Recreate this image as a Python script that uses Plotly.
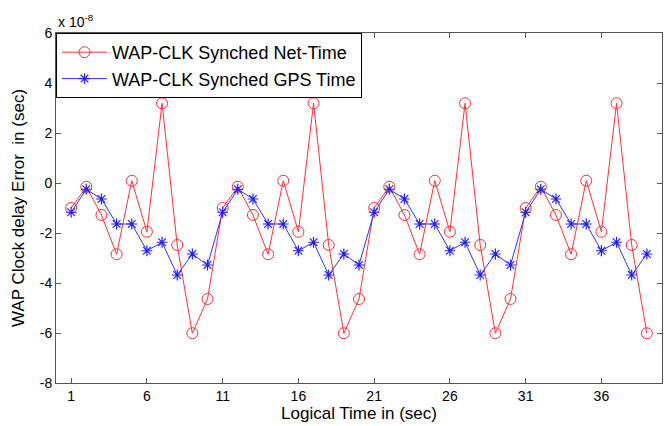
import plotly.graph_objects as go

x_time = list(range(1, 40))
net_time = [-1.0, -0.15, -1.28, -2.85, 0.09, -1.95, 3.19, -2.48, -6.01, -4.64,
            -1.0, -0.15, -1.28, -2.85, 0.09, -1.95, 3.19, -2.48, -6.01, -4.64,
            -1.0, -0.15, -1.28, -2.85, 0.09, -1.95, 3.19, -2.48, -6.01, -4.64,
            -1.0, -0.15, -1.28, -2.85, 0.09, -1.95, 3.19, -2.48, -6.01]
gps_time = [-1.17, -0.25, -0.64, -1.64, -1.64, -2.71, -2.37, -3.68, -2.84, -3.28,
            -1.17, -0.25, -0.64, -1.64, -1.64, -2.71, -2.37, -3.68, -2.84, -3.28,
            -1.17, -0.25, -0.64, -1.64, -1.64, -2.71, -2.37, -3.68, -2.84, -3.28,
            -1.17, -0.25, -0.64, -1.64, -1.64, -2.71, -2.37, -3.68, -2.84]
x_ticks = [1, 6, 11, 16, 21, 26, 31, 36]
y_ticks = [-8, -6, -4, -2, 0, 2, 4, 6]

FONT = "Arial, Liberation Sans, sans-serif"

fig = go.Figure()
fig.add_trace(go.Scatter(
    x=x_time, y=net_time, mode="lines+markers",
    name="WAP-CLK Synched Net-Time",
    line=dict(color="#ff3030", width=1),
    marker=dict(symbol="circle-open", size=11, color="#ff3030", line=dict(width=1)),
))
fig.add_trace(go.Scatter(
    x=x_time, y=gps_time, mode="lines+markers",
    name="WAP-CLK Synched GPS Time",
    line=dict(color="#3030ff", width=1),
    marker=dict(symbol="asterisk-open", size=9, color="#2020ff", line=dict(width=1.2)),
))

axis_common = dict(
    showgrid=False, zeroline=False, showline=True, linecolor="#555555", linewidth=1,
    mirror="ticks", ticks="inside", ticklen=5, tickcolor="#555555", automargin=False,
    tickfont=dict(family=FONT, size=14, color="black"),
)
fig.update_xaxes(range=[0, 40], tickvals=x_ticks, ticktext=[str(v) for v in x_ticks],
                 title=dict(text="Logical Time in (sec)", standoff=2,
                            font=dict(family=FONT, size=17, color="black")),
                 **axis_common)
fig.update_yaxes(range=[-8, 6], tickvals=y_ticks, ticktext=[str(v) for v in y_ticks],
                 title=dict(text="WAP Clock delay Error  in (sec)", standoff=10,
                            font=dict(family=FONT, size=17, color="black")),
                 **axis_common)

fig.add_annotation(x=0, y=1, xref="paper", yref="paper", xanchor="left", yanchor="bottom",
                   showarrow=False, yshift=1,
                   text="x 10<sup>-8</sup>",
                   font=dict(family=FONT, size=14, color="black"))

fig.update_layout(
    width=664, height=426,
    margin=dict(l=56, r=2, t=33, b=43, autoexpand=False),
    paper_bgcolor="white", plot_bgcolor="white",
    legend=dict(x=0, y=1, xanchor="left", yanchor="top",
                bordercolor="black", borderwidth=1, bgcolor="white",
                font=dict(family=FONT, size=18, color="black"),
                itemwidth=45, tracegroupgap=0),
    showlegend=True,
)

fig.write_html("out.html", config={"displayModeBar": False},
               post_script="document.body.style.margin='0';document.body.style.overflow='hidden';")
